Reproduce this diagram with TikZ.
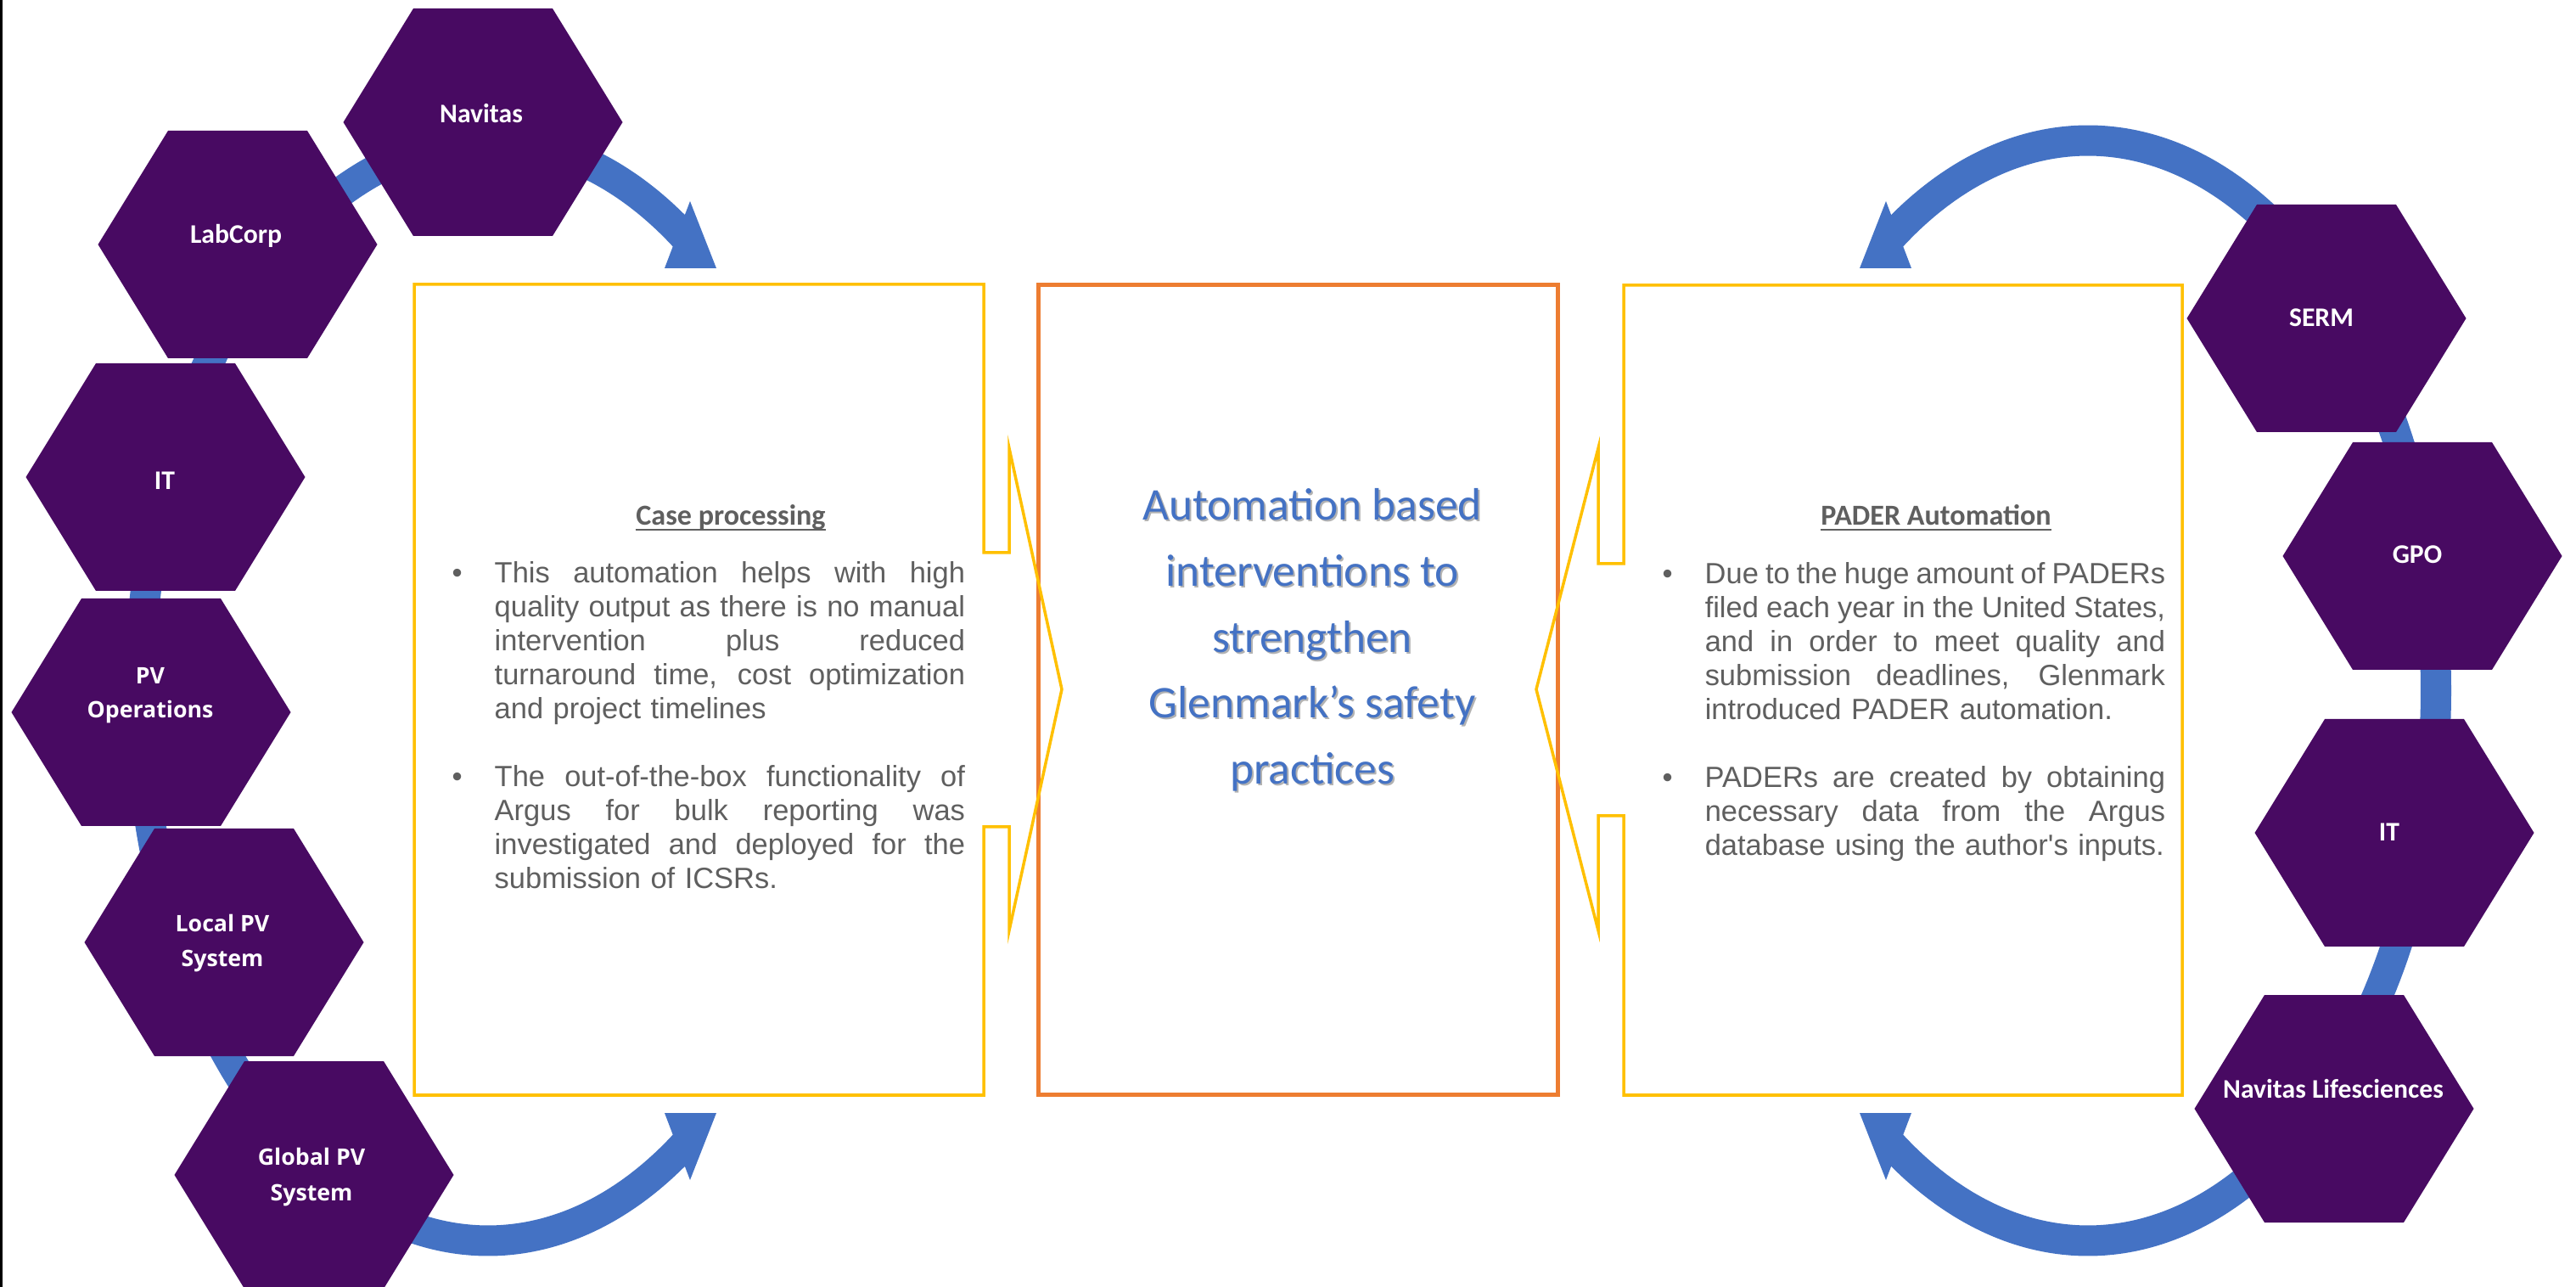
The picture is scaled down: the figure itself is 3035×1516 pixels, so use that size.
\documentclass[tikz,border=0pt]{standalone}
\usepackage{fontspec}
\setmainfont{Liberation Sans}
\newfontfamily\calibri{Carlito}
\newfontfamily\opensans{Open Sans}
\definecolor{hexpurple}{RGB}{72,10,98}
\definecolor{arcblue}{HTML}{4472C4}
\definecolor{boxyellow}{HTML}{FFC000}
\definecolor{boxorange}{HTML}{ED7D31}
\definecolor{bodygray}{HTML}{5F5F5F}
\newlength{\bulw}\setlength{\bulw}{0.5cm}
\newcommand{\jl}[2]{\hbox to #1{\spaceskip=0.278em plus 1fil minus 0.06em\relax #2}}
\newcommand{\bul}{\makebox[\bulw][l]{•}}
\newcommand{\ind}{\hspace*{\bulw}}
\newcommand{\hexshape}[1]{\fill[hexpurple] (#1) +(-164.5,0) -- +(-82,-134) -- +(82,-134) -- +(164.5,0) -- +(82,134) -- +(-82,134) -- cycle;}
\tikzset{
  band/.style={arcblue, line width=0.36cm},
  hexlab/.style={anchor=base, inner sep=0, text=white, font=\calibri\bfseries\fontsize{9pt}{11pt}\selectfont},
  hexlabo/.style={anchor=base, inner sep=0, text=white, font=\opensans\bfseries\fontsize{7.6pt}{10pt}\selectfont},
  callout/.style={draw=boxyellow, line width=0.035cm, line join=miter},
  body/.style={anchor=north west, inner sep=0, align=left, text=bodygray, font=\fontsize{9.8pt}{11.38pt}\selectfont},
  head/.style={anchor=base, inner sep=0, text=bodygray, font=\calibri\bfseries\fontsize{9.7pt}{11pt}\selectfont},
  ul/.style={bodygray, line width=0.025cm},
  ctext/.style={anchor=north, inner sep=0, align=center, font=\calibri\fontsize{15.2pt}{22.1pt}\selectfont}
}
\begin{document}
\begin{tikzpicture}[x=0.01cm,y=-0.01cm]
\useasboundingbox (0,0) rectangle (3035,1516);
\fill[white] (0,0) rectangle (3035,1516);
\fill[black] (0,0) rectangle (3,1516);

% big arcs behind hexagons
\draw[band] plot[domain=55:305,samples=160,smooth] ({575+410*cos(\x)},{813.5-648*sin(\x)});
\draw[band] plot[domain=55:305,samples=160,smooth] ({2460-410*cos(\x)},{813.5-648*sin(\x)});

% arrow heads
\coordinate (tipLT) at (813,237);
\coordinate (tipLB) at (813,1390);
\coordinate (tipRT) at (2222,237);
\coordinate (tipRB) at (2222,1390);
\fill[arcblue] (tipLT) -- (844,316) -- (783,316) -- cycle;
\fill[arcblue] (tipLB) -- (844,1311) -- (783,1311) -- cycle;
\fill[arcblue] (tipRT) -- (2252,316) -- (2191,316) -- cycle;
\fill[arcblue] (tipRB) -- (2252,1311) -- (2191,1311) -- cycle;

% hexagon centres
\coordinate (hNav) at (569,144);
\coordinate (hLab) at (280,288);
\coordinate (hITl) at (195,562);
\coordinate (hPVO) at (178,839);
\coordinate (hLoc) at (264,1110);
\coordinate (hGlo) at (370,1384);
\coordinate (hSERM) at (2741,375);
\coordinate (hGPO) at (2854,655);
\coordinate (hITr) at (2821,981);
\coordinate (hNL) at (2750,1306);
\hexshape{hNav}
\hexshape{hLab}
\hexshape{hITl}
\hexshape{hPVO}
\hexshape{hLoc}
\hexshape{hGlo}
\hexshape{hSERM}
\hexshape{hGPO}
\hexshape{hITr}
\hexshape{hNL}

% hexagon labels
\node[hexlab] (lNav) at (567,145) {Navitas};
\node[hexlab] (lLab) at (278,287) {LabCorp};
\node[hexlab] (lITl) at (194,577) {IT};
\node[hexlabo] (lPVO1) at (177,806) {PV};
\node[hexlabo] (lPVO2) at (177,846) {Operations};
\node[hexlabo] (lLoc1) at (262,1098) {Local PV};
\node[hexlabo] (lLoc2) at (262,1139) {System};
\node[hexlabo] (lGlo1) at (367,1372) {Global PV};
\node[hexlabo] (lGlo2) at (367,1414) {System};
\node[hexlab] (lSERM) at (2735,385) {SERM};
\node[hexlab] (lGPO) at (2848,664) {GPO};
\node[hexlab] (lITr) at (2815,991) {IT};
\node[hexlab] (lNL) at (2749,1293) {Navitas Lifesciences};

% centre box
\node[draw=boxorange, line width=0.05cm, minimum width=6.11cm, minimum height=9.53cm, inner sep=0] (cbox) at (1529.5,812.5) {};

% callout boxes
\draw[callout] (488,335) -- (1159,335) -- (1159,651) -- (1189,651) -- (1189,528) -- (1251,812) -- (1189,1096) -- (1189,974) -- (1159,974) -- (1159,1290) -- (488,1290) -- cycle;
\draw[callout] (2571,336) -- (1913,336) -- (1913,664) -- (1883,664) -- (1883,528) -- (1810,812) -- (1883,1096) -- (1883,961) -- (1913,961) -- (1913,1290) -- (2571,1290) -- cycle;

% centre text
\node[ctext, text=black!30] (cshadow) at (1548,559.6) {\strut Automation based\\interventions to\\strengthen\\Glenmark’s safety\\practices};
\node[ctext, text=arcblue] (ctitle) at (1546,557.6) {\strut Automation based\\interventions to\\strengthen\\Glenmark’s safety\\practices};

% headings
\node[head] (lhead) at (861,619) {Case processing};
\draw[ul] ([yshift=-0.05cm]lhead.base west) -- ([yshift=-0.05cm]lhead.base east);
\node[head] (rhead) at (2281,619) {PADER Automation};
\draw[ul] ([yshift=-0.05cm]rhead.base west) -- ([yshift=-0.05cm]rhead.base east);

% body texts
\node[body, text width=6.04cm] (lbody) at (532,658) {%
\strut\bul\jl{5.54cm}{This automation helps with high}\\
\ind\jl{5.54cm}{quality output as there is no manual}\\
\ind\jl{5.54cm}{intervention plus reduced}\\
\ind\jl{5.54cm}{turnaround time, cost optimization}\\
\ind and project timelines\\[0.4cm]
\bul\jl{5.54cm}{The out-of-the-box functionality of}\\
\ind\jl{5.54cm}{Argus for bulk reporting was}\\
\ind\jl{5.54cm}{investigated and deployed for the}\\
\ind submission of ICSRs.};

\node[body, text width=5.92cm] (rbody) at (1958,659) {%
\strut\bul\jl{5.42cm}{Due to the huge amount of PADERs}\\
\ind\jl{5.42cm}{filed each year in the United States,}\\
\ind\jl{5.42cm}{and in order to meet quality and}\\
\ind\jl{5.42cm}{submission deadlines, Glenmark}\\
\ind introduced PADER automation.\\[0.4cm]
\bul\jl{5.42cm}{PADERs are created by obtaining}\\
\ind\jl{5.42cm}{necessary data from the Argus}\\
\ind database using the author\textquotesingle s inputs.};
\end{tikzpicture}
\end{document}
